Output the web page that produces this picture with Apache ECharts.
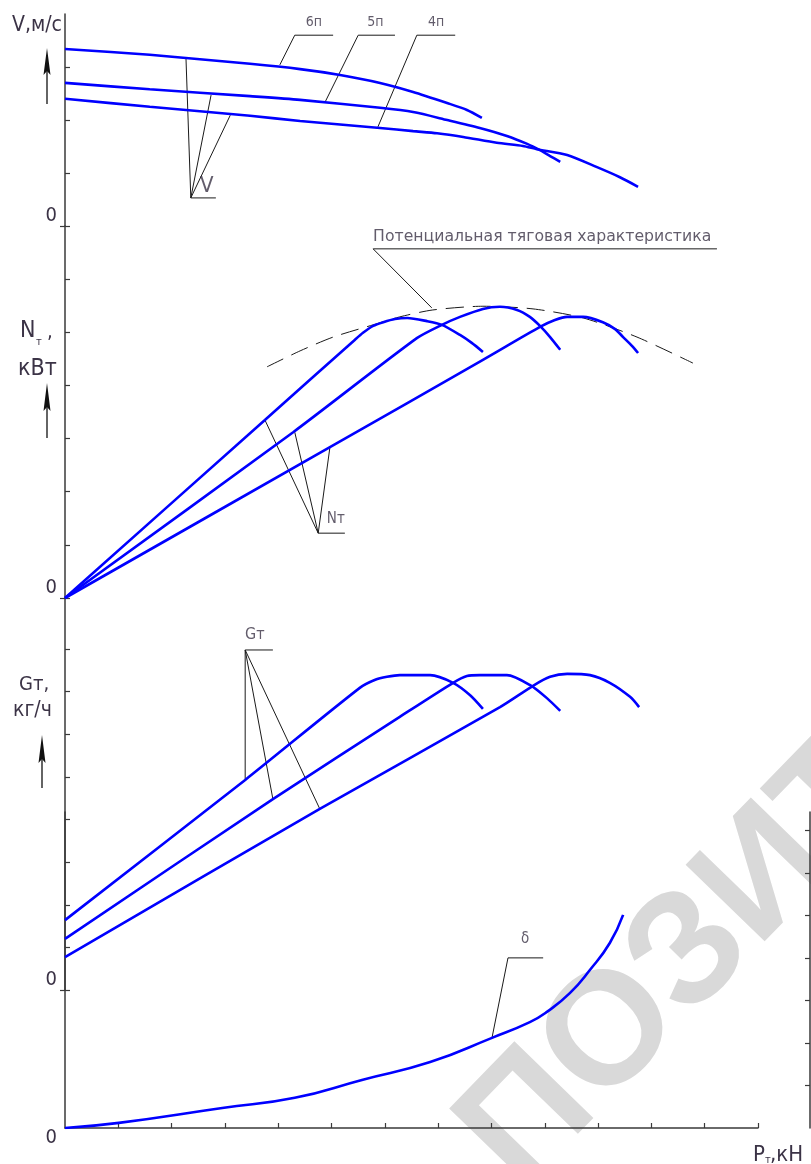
<!DOCTYPE html>
<html>
<head>
<meta charset="utf-8">
<script src="https://cdn.jsdelivr.net/npm/echarts@6.0.0/dist/echarts.min.js"></script>
<style>
  html, body { margin: 0; padding: 0; background: #fff; }
  #main { width: 811px; height: 1164px; }
</style>
</head>
<body>
<div id="main"></div>
<script>
// Тяговая характеристика трактора. По осям - условные деления (шкалы без цифр).
// P_T по оси X: 0..13 делений
var gears = ['6п', '5п', '4п'];

// V, м/с по передачам
var v6x = [0, 1.59, 3.47, 4.41, 5.16, 5.91, 6.53, 7.17, 7.54, 7.82];
var v6y = [3.34, 3.23, 3.06, 2.96, 2.85, 2.70, 2.53, 2.32, 2.19, 2.04];
var v5x = [0, 1.59, 3.47, 4.41, 5.91, 6.53, 7.17, 7.78, 8.29, 8.67, 8.91, 9.10, 9.29];
var v5y = [2.70, 2.58, 2.45, 2.38, 2.23, 2.15, 2.00, 1.85, 1.70, 1.55, 1.43, 1.32, 1.21];
var v4x = [0, 1.59, 3.47, 4.41, 5.91, 6.53, 6.98, 7.47, 8.10, 8.59, 8.85, 9.42, 9.98, 10.41, 10.75];
var v4y = [2.40, 2.25, 2.08, 1.98, 1.85, 1.79, 1.75, 1.68, 1.57, 1.51, 1.45, 1.34, 1.11, 0.92, 0.74];

// N_T, кВт
var n6x = [0, 3.75, 5.44, 5.59, 5.78, 5.97, 6.19, 6.42, 6.79, 7.07, 7.41, 7.63, 7.84];
var n6y = [0, 3.35, 4.86, 4.99, 5.12, 5.19, 5.25, 5.27, 5.21, 5.14, 4.95, 4.80, 4.63];
var n5x = [0, 4.28, 6.60, 7.07, 7.41, 7.84, 8.16, 8.48, 8.72, 8.91, 9.10, 9.29];
var n5y = [0, 3.12, 4.89, 5.14, 5.29, 5.44, 5.48, 5.42, 5.29, 5.12, 4.91, 4.67];
var n4x = [0, 4.97, 7.84, 8.91, 9.19, 9.42, 9.72, 10.09, 10.32, 10.47, 10.64, 10.75];
var n4y = [0, 2.84, 4.48, 5.10, 5.23, 5.29, 5.29, 5.19, 5.06, 4.91, 4.74, 4.61];
// потенциальная тяговая характеристика (огибающая)
var potX = [3.79, 4.41, 5.03, 5.78, 6.28, 6.90, 7.84, 8.78, 9.72, 10.73, 11.78];
var potY = [4.35, 4.65, 4.91, 5.14, 5.29, 5.42, 5.49, 5.44, 5.27, 4.91, 4.42];

// G_T, кг/ч
var g6x = [0, 3.38, 5.53, 5.82, 6.04, 6.28, 6.85, 7.28, 7.60, 7.84];
var g6y = [1.64, 4.93, 7.09, 7.28, 7.35, 7.39, 7.39, 7.21, 6.92, 6.60];
var g5x = [0, 3.90, 6.28, 7.28, 7.54, 7.78, 8.29, 8.72, 9.04, 9.29];
var g5y = [1.20, 4.48, 6.41, 7.21, 7.37, 7.39, 7.39, 7.16, 6.85, 6.55];
var g4x = [0, 4.78, 8.16, 8.78, 9.10, 9.42, 9.85, 10.22, 10.60, 10.77];
var g4y = [0.77, 4.25, 6.64, 7.14, 7.35, 7.42, 7.39, 7.21, 6.88, 6.64];

// буксование delta
var dX = [0, 1.01, 2.95, 4.31, 5.57, 6.85, 8.01, 8.72, 9.04, 9.47, 9.85, 10.22, 10.47];
var dY = [0, 0.12, 0.47, 0.71, 1.13, 1.55, 2.12, 2.49, 2.73, 3.17, 3.72, 4.35, 5.01];

// деления шкал
var xTicks = [1, 2, 3, 4, 5, 6, 7, 8, 9, 10, 11, 12, 13];
var vTicks = [0, 1, 2, 3];
var nTicks = [0, 1, 2, 3, 4, 5, 6];
var gTicks = [0, 1, 2, 3, 4, 5, 6, 7, 8];
var dTicks = [1, 2, 3, 4, 5, 6, 7];

// выноски (в единицах шкал)
var vLeaders = [[[2.27, 3.15], [2.36, 0.53], [2.83, 0.53]], [[2.74, 2.47], [2.36, 0.53]], [[3.10, 2.09], [2.36, 0.53]]];
var gearLeaders = [
  [[4.03, 3.04], [4.31, 3.60], [5.03, 3.60]],
  [[4.88, 2.34], [5.50, 3.60], [6.19, 3.60]],
  [[5.87, 1.87], [6.60, 3.60], [7.32, 3.60]]
];
var nLeaders = [[[3.75, 3.35], [4.75, 1.22], [5.25, 1.22]], [[4.31, 3.12], [4.75, 1.22]], [[4.97, 2.84], [4.75, 1.22]]];
var potLeader = [[[6.88, 5.46], [5.78, 6.57], [12.23, 6.57]]];
var gLeaders = [[[3.38, 4.93], [3.38, 7.98], [3.90, 7.98]], [[3.90, 4.48], [3.38, 7.98]], [[4.78, 4.25], [3.38, 7.98]]];
var dLeaders = [[[8.01, 2.12], [8.31, 4.00], [8.97, 4.00]]];

var BLUE = '#0000ff';
var AX = '#3a3a3a';
var TXT = '#3b3346';
var NARROW = '"Liberation Sans Narrow", "DejaVu Sans Condensed", "Liberation Sans", sans-serif';

function pts(xs, ys) { return xs.map(function (x, i) { return [x, ys[i]]; }); }

var grids = [
  { left: 65, right: 53, top: 14, height: 212 },
  { left: 65, right: 53, top: 226, height: 372 },
  { left: 65, right: 53, top: 598, height: 392 },
  { left: 65, right: 53, top: 812, height: 316 }
];
var yMax = [4, 7, 9.2, 7.43];

var xAxes = grids.map(function (g, i) {
  return {
    type: 'value', gridIndex: i, min: 0, max: 13, show: i === 3,
    axisLine: { show: true, onZero: false, lineStyle: { color: AX, width: 1.5 } },
    axisTick: { show: true, inside: true, length: 5, customValues: xTicks, lineStyle: { color: AX, width: 1.2 } },
    axisLabel: { show: false }, splitLine: { show: false }
  };
});

function zeroLabel(va) {
  return { show: true, customValues: [0], margin: 8, color: TXT, fontFamily: NARROW, fontSize: 20, verticalAlign: va };
}
function mainLeft(i, ticks) {
  return {
    type: 'value', gridIndex: i, position: 'left', min: 0, max: yMax[i],
    axisLine: { show: true, onZero: false, lineStyle: { color: AX, width: 1.5 } },
    axisTick: { show: true, inside: true, length: 5, customValues: ticks, lineStyle: { color: AX, width: 1.2 } },
    axisLabel: zeroLabel('bottom'), splitLine: { show: false }
  };
}
function zeroOut(i) {
  return {
    type: 'value', gridIndex: i, position: 'left', min: 0, max: yMax[i],
    axisLine: { show: false },
    axisTick: { show: true, inside: false, length: 5, customValues: [0], lineStyle: { color: AX, width: 1.2 } },
    axisLabel: { show: false }, splitLine: { show: false }
  };
}
var yAxes = [
  mainLeft(0, vTicks), mainLeft(1, nTicks), mainLeft(2, gTicks),
  {
    type: 'value', gridIndex: 3, position: 'right', offset: 52, min: 0, max: yMax[3],
    axisLine: { show: true, onZero: false, lineStyle: { color: AX, width: 1.5 } },
    axisTick: { show: true, inside: true, length: 5, customValues: dTicks, lineStyle: { color: AX, width: 1.2 } },
    axisLabel: { show: false }, splitLine: { show: false }
  },
  {
    type: 'value', gridIndex: 3, position: 'left', min: 0, max: yMax[3],
    axisLine: { show: true, onZero: false, lineStyle: { color: AX, width: 1.5 } },
    axisTick: { show: false },
    axisLabel: zeroLabel('top'), splitLine: { show: false }
  },
  zeroOut(0), zeroOut(1), zeroOut(2)
];

function curve(xs, ys, g, extra) {
  var s = {
    type: 'line', xAxisIndex: g, yAxisIndex: g, data: pts(xs, ys),
    symbol: 'none', smooth: 0.25, silent: true, z: 3,
    lineStyle: { color: BLUE, width: 2.6 }
  };
  return Object.assign(s, extra || {});
}
function leader(p, g) {
  return {
    type: 'line', xAxisIndex: g, yAxisIndex: g, data: p, symbol: 'none',
    silent: true, z: 2, lineStyle: { color: '#1a1a1a', width: 1 }
  };
}
function tag(items, g, size, pos, family) {
  return {
    type: 'scatter', xAxisIndex: g, yAxisIndex: g, symbolSize: 0, silent: true, z: 4,
    data: items.map(function (t) { return { name: t[0], value: [t[1], t[2]] }; }),
    label: { show: true, position: pos || 'inside', distance: 0, formatter: '{b}', color: TXT,
      fontFamily: family || NARROW, fontSize: size }
  };
}

var series = [
  curve(v6x, v6y, 0), curve(v5x, v5y, 0), curve(v4x, v4y, 0),
  curve(n6x, n6y, 1), curve(n5x, n5y, 1), curve(n4x, n4y, 1),
  curve(potX, potY, 1, { lineStyle: { color: '#1a1a1a', width: 1, type: [18, 9] }, z: 2 }),
  curve(g6x, g6y, 2), curve(g5x, g5y, 2), curve(g4x, g4y, 2),
  curve(dX, dY, 3, { smooth: 0.5 })
];
vLeaders.forEach(function (p) { series.push(leader(p, 0)); });
gearLeaders.forEach(function (p) { series.push(leader(p, 0)); });
nLeaders.forEach(function (p) { series.push(leader(p, 1)); });
potLeader.forEach(function (p) { series.push(leader(p, 1)); });
gLeaders.forEach(function (p) { series.push(leader(p, 2)); });
dLeaders.forEach(function (p) { series.push(leader(p, 3)); });

series.push(tag([['V', 2.66, 0.74]], 0, 22));
series.push(tag([[gears[0], 4.67, 3.84], [gears[1], 5.82, 3.84], [gears[2], 6.96, 3.84]], 0, 14));
series.push(tag([['Nт', 5.08, 1.49]], 1, 15));
series.push(tag([['Потенциальная тяговая характеристика', 5.78, 6.79]], 1, 15.7, 'right', '"DejaVu Sans", sans-serif'));
series.push(tag([['Gт', 3.56, 8.33]], 2, 16));
series.push(tag([['δ', 8.63, 4.44]], 3, 15));

function txt(s, x, y, size, extra) {
  return Object.assign({
    type: 'text', x: x, y: y, silent: true,
    style: { text: s, fill: TXT, font: 'normal ' + size + 'px ' + NARROW, textAlign: 'left', textVerticalAlign: 'middle' }
  }, extra || {});
}
function arrow(x, top, base, bottom) {
  return [
    { type: 'line', silent: true, shape: { x1: x, y1: base - 4, x2: x, y2: bottom }, style: { stroke: '#111', lineWidth: 1.3 } },
    { type: 'polygon', silent: true, shape: { points: [[x, top], [x + 3.5, base], [x, base - 4], [x - 3.5, base]] }, style: { fill: '#111' } }
  ];
}

var graphic = [
  {
    type: 'text', x: 489, y: 1162, rotation: 0.80, z: -10, silent: true,
    style: { text: 'ПОЗИТИВ', fill: '#d9d9d9', font: 'bold 160px "Liberation Sans", sans-serif', textAlign: 'left', textVerticalAlign: 'middle' }
  },
  txt('V,м/с', 12, 26, 21),
  txt('N', 20, 331, 23),
  txt('т', 36, 342, 11),
  txt(',', 47, 333, 20),
  txt('кВт', 18, 369, 23),
  txt('Gт,', 19, 685, 20),
  txt('кг/ч', 13, 711, 21),
  txt('P', 753, 1155, 22),
  txt('т', 765, 1160, 11),
  txt(',кН', 770, 1155, 22)
].concat(arrow(47, 48, 75, 104), arrow(47, 383, 411, 438), arrow(42, 735, 763, 788));

var chart = echarts.init(document.getElementById('main'));
chart.setOption({
  animation: false,
  backgroundColor: '#fff',
  grid: grids,
  xAxis: xAxes,
  yAxis: yAxes,
  series: series,
  graphic: graphic
});
</script>
</body>
</html>
